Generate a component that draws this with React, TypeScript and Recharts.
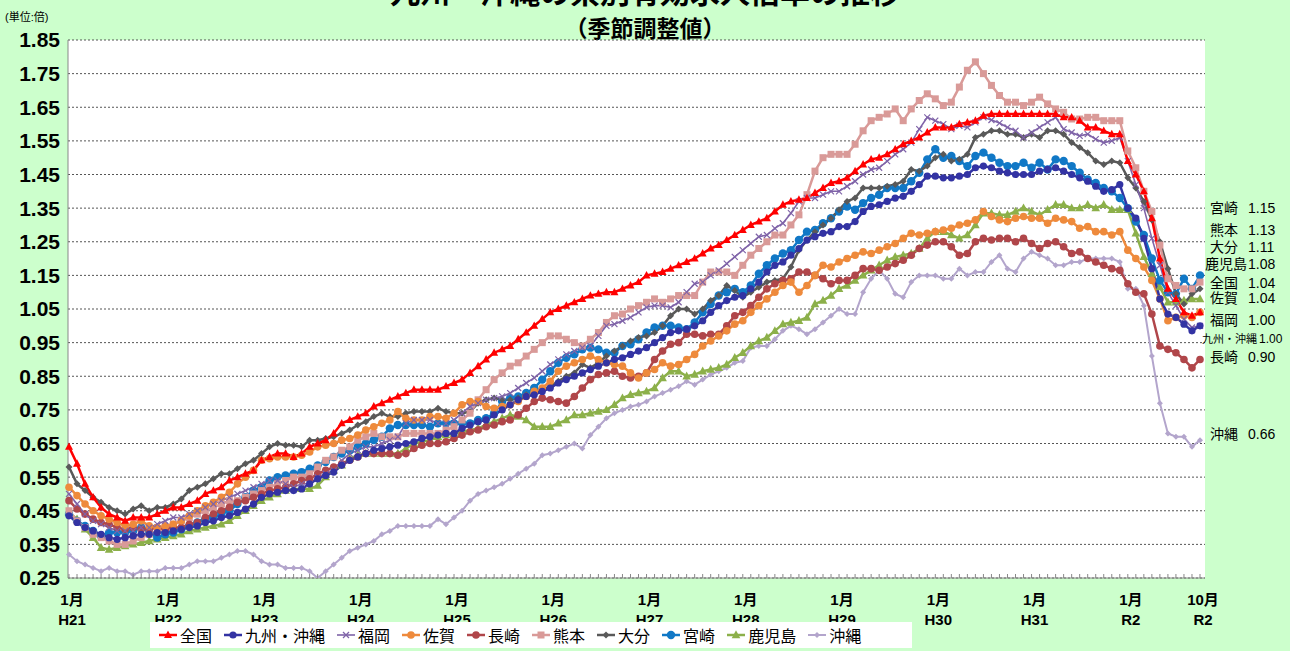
import { LineChart, Line, XAxis, YAxis, CartesianGrid, Legend } from 'recharts'

// monthly values, Jan 2009 (H21) .. Oct 2020 (R2), 142 months
const zenkoku = [
  0.64, 0.59, 0.53, 0.49, 0.46, 0.44, 0.43, 0.42, 0.43, 0.43, 0.43, 0.44,
  0.45, 0.46, 0.46, 0.47, 0.48, 0.50, 0.51, 0.52, 0.54, 0.55, 0.56, 0.57,
  0.60, 0.61, 0.62, 0.62, 0.61, 0.62, 0.64, 0.65, 0.66, 0.68, 0.71, 0.72,
  0.73, 0.74, 0.76, 0.77, 0.78, 0.79, 0.80, 0.81, 0.81, 0.81, 0.81, 0.82,
  0.83, 0.84, 0.86, 0.88, 0.90, 0.92, 0.93, 0.94, 0.96, 0.98, 1.00, 1.02,
  1.04, 1.05, 1.06, 1.07, 1.08, 1.09, 1.095, 1.10, 1.10, 1.11, 1.12, 1.13,
  1.15, 1.155, 1.16, 1.17, 1.18, 1.19, 1.20, 1.215, 1.23, 1.24, 1.255, 1.27,
  1.285, 1.30, 1.31, 1.32, 1.34, 1.36, 1.37, 1.375, 1.38, 1.395, 1.41, 1.425,
  1.43, 1.44, 1.46, 1.48, 1.495, 1.50, 1.51, 1.525, 1.54, 1.55, 1.56, 1.575,
  1.59, 1.59, 1.59, 1.60, 1.605, 1.61, 1.625, 1.63, 1.63, 1.63, 1.63, 1.63,
  1.63, 1.63, 1.63, 1.63, 1.62, 1.62, 1.61, 1.59, 1.59, 1.58, 1.57, 1.57,
  1.49, 1.45, 1.40, 1.32, 1.20, 1.11, 1.08, 1.04, 1.03, 1.04,
]
const kyushu = [
  0.435, 0.415, 0.40, 0.39, 0.38, 0.37, 0.365, 0.37, 0.375, 0.38, 0.38, 0.385,
  0.385, 0.39, 0.395, 0.40, 0.405, 0.415, 0.42, 0.43, 0.435, 0.445, 0.455, 0.47,
  0.49, 0.50, 0.505, 0.51, 0.51, 0.515, 0.53, 0.545, 0.555, 0.565, 0.585, 0.60,
  0.61, 0.62, 0.63, 0.635, 0.64, 0.645, 0.65, 0.655, 0.665, 0.67, 0.675, 0.68,
  0.68, 0.695, 0.705, 0.715, 0.72, 0.735, 0.75, 0.765, 0.78, 0.79, 0.795, 0.805,
  0.815, 0.83, 0.84, 0.85, 0.86, 0.87, 0.88, 0.89, 0.90, 0.905, 0.915, 0.925,
  0.935, 0.95, 0.965, 0.98, 0.985, 0.99, 1.00, 1.015, 1.04, 1.06, 1.075, 1.085,
  1.09, 1.11, 1.13, 1.16, 1.18, 1.19, 1.21, 1.23, 1.255, 1.265, 1.275, 1.28,
  1.295, 1.295, 1.31, 1.34, 1.355, 1.36, 1.37, 1.38, 1.385, 1.40, 1.42, 1.445,
  1.445, 1.44, 1.44, 1.445, 1.45, 1.47, 1.475, 1.47, 1.46, 1.455, 1.45, 1.45,
  1.45, 1.46, 1.465, 1.47, 1.46, 1.45, 1.44, 1.43, 1.415, 1.40, 1.405, 1.42,
  1.35, 1.32, 1.26, 1.17, 1.08, 1.035, 1.025, 1.005, 0.985, 1.00,
]
const fukuoka = [
  0.50, 0.47, 0.44, 0.42, 0.41, 0.40, 0.39, 0.39, 0.39, 0.40, 0.40, 0.41,
  0.42, 0.43, 0.43, 0.44, 0.45, 0.46, 0.47, 0.48, 0.49, 0.50, 0.51, 0.52,
  0.53, 0.54, 0.54, 0.53, 0.52, 0.53, 0.53, 0.55, 0.56, 0.57, 0.60, 0.62,
  0.63, 0.64, 0.64, 0.65, 0.66, 0.67, 0.71, 0.72, 0.72, 0.72, 0.71, 0.71,
  0.72, 0.74, 0.76, 0.77, 0.78, 0.785, 0.79, 0.80, 0.815, 0.83, 0.845, 0.865,
  0.885, 0.90, 0.915, 0.925, 0.935, 0.94, 0.97, 1.00, 1.005, 1.015, 1.025, 1.04,
  1.055, 1.06, 1.06, 1.055, 1.07, 1.10, 1.125, 1.13, 1.15, 1.165, 1.185, 1.205,
  1.225, 1.245, 1.265, 1.27, 1.29, 1.305, 1.335, 1.37, 1.38, 1.38, 1.39, 1.40,
  1.40, 1.415, 1.43, 1.45, 1.465, 1.47, 1.49, 1.51, 1.525, 1.545, 1.585, 1.62,
  1.61, 1.60, 1.585, 1.595, 1.59, 1.605, 1.62, 1.612, 1.603, 1.59, 1.58, 1.56,
  1.575, 1.59, 1.605, 1.62, 1.585, 1.575, 1.565, 1.57, 1.555, 1.545, 1.55, 1.56,
  1.49, 1.42, 1.35, 1.26, 1.18, 1.10, 1.06, 1.02, 0.995, 1.00,
]
const saga = [
  0.52, 0.495, 0.47, 0.45, 0.435, 0.425, 0.415, 0.405, 0.41, 0.42, 0.405, 0.40,
  0.405, 0.41, 0.42, 0.435, 0.45, 0.465, 0.475, 0.49, 0.505, 0.53, 0.55, 0.57,
  0.60, 0.605, 0.61, 0.61, 0.61, 0.615, 0.625, 0.64, 0.645, 0.65, 0.66, 0.665,
  0.675, 0.69, 0.70, 0.71, 0.72, 0.745, 0.725, 0.72, 0.72, 0.73, 0.73, 0.725,
  0.74, 0.765, 0.775, 0.775, 0.76, 0.755, 0.76, 0.765, 0.775, 0.79, 0.805, 0.815,
  0.835, 0.865, 0.88, 0.89, 0.90, 0.91, 0.90, 0.89, 0.885, 0.88, 0.86, 0.845,
  0.86, 0.87, 0.89, 0.88, 0.885, 0.90, 0.915, 0.94, 0.955, 0.97, 0.985, 1.005,
  1.015, 1.04, 1.06, 1.08, 1.10, 1.12, 1.13, 1.10, 1.12, 1.15, 1.18, 1.175,
  1.19, 1.20, 1.21, 1.22, 1.215, 1.225, 1.235, 1.245, 1.26, 1.275, 1.27, 1.275,
  1.28, 1.285, 1.29, 1.30, 1.305, 1.315, 1.34, 1.325, 1.315, 1.31, 1.32, 1.325,
  1.32, 1.32, 1.305, 1.32, 1.315, 1.31, 1.29, 1.295, 1.28, 1.28, 1.27, 1.28,
  1.225, 1.20, 1.175, 1.135, 1.08, 1.015, 1.025, 1.03, 1.025, 1.04,
]
const nagasaki = [
  0.48, 0.455, 0.44, 0.425, 0.415, 0.41, 0.40, 0.395, 0.40, 0.395, 0.395, 0.40,
  0.395, 0.40, 0.40, 0.41, 0.415, 0.43, 0.44, 0.45, 0.46, 0.475, 0.48, 0.49,
  0.50, 0.51, 0.515, 0.52, 0.53, 0.54, 0.545, 0.56, 0.57, 0.58, 0.59, 0.60,
  0.61, 0.62, 0.62, 0.62, 0.62, 0.615, 0.62, 0.635, 0.645, 0.65, 0.65, 0.655,
  0.665, 0.675, 0.685, 0.69, 0.70, 0.705, 0.715, 0.72, 0.735, 0.755, 0.775, 0.785,
  0.78, 0.775, 0.77, 0.79, 0.815, 0.84, 0.855, 0.86, 0.865, 0.85, 0.845, 0.85,
  0.86, 0.90, 0.925, 0.945, 0.95, 0.975, 0.975, 0.97, 0.975, 0.975, 1.00, 1.03,
  1.04, 1.06, 1.085, 1.11, 1.125, 1.135, 1.14, 1.16, 1.16, 1.15, 1.14, 1.125,
  1.135, 1.135, 1.15, 1.17, 1.17, 1.165, 1.175, 1.185, 1.195, 1.21, 1.23, 1.24,
  1.25, 1.25, 1.235, 1.21, 1.215, 1.25, 1.26, 1.255, 1.26, 1.26, 1.25, 1.26,
  1.245, 1.23, 1.245, 1.25, 1.235, 1.215, 1.22, 1.20, 1.19, 1.18, 1.17, 1.165,
  1.125, 1.10, 1.095, 1.035, 0.94, 0.93, 0.92, 0.90, 0.875, 0.90,
]
const kumamoto = [
  0.45, 0.42, 0.40, 0.38, 0.37, 0.36, 0.35, 0.35, 0.36, 0.37, 0.38, 0.39,
  0.40, 0.41, 0.42, 0.43, 0.44, 0.45, 0.46, 0.47, 0.48, 0.48, 0.49, 0.50,
  0.51, 0.52, 0.53, 0.54, 0.55, 0.55, 0.56, 0.58, 0.60, 0.61, 0.63, 0.64,
  0.66, 0.67, 0.68, 0.67, 0.67, 0.67, 0.68, 0.68, 0.68, 0.68, 0.68, 0.69,
  0.70, 0.72, 0.74, 0.78, 0.81, 0.84, 0.86, 0.88, 0.89, 0.91, 0.93, 0.95,
  0.97, 0.97, 0.96, 0.95, 0.94, 0.96, 0.98, 1.01, 1.03, 1.035, 1.05, 1.06,
  1.07, 1.08, 1.07, 1.08, 1.09, 1.09, 1.09, 1.13, 1.16, 1.16, 1.16, 1.15,
  1.18, 1.21, 1.23, 1.25, 1.27, 1.27, 1.30, 1.33, 1.39, 1.46, 1.50, 1.51,
  1.51, 1.51, 1.54, 1.58, 1.61, 1.62, 1.63, 1.645, 1.61, 1.645, 1.67, 1.69,
  1.675, 1.655, 1.665, 1.71, 1.76, 1.785, 1.75, 1.715, 1.685, 1.665, 1.665, 1.655,
  1.665, 1.68, 1.66, 1.645, 1.635, 1.615, 1.615, 1.62, 1.62, 1.61, 1.61, 1.61,
  1.52, 1.47, 1.40, 1.34, 1.24, 1.14, 1.12, 1.11, 1.11, 1.13,
]
const oita = [
  0.58, 0.53, 0.51, 0.49, 0.475, 0.46, 0.45, 0.44, 0.455, 0.465, 0.45, 0.46,
  0.46, 0.47, 0.485, 0.51, 0.52, 0.53, 0.545, 0.56, 0.56, 0.575, 0.59, 0.60,
  0.62, 0.64, 0.65, 0.645, 0.645, 0.64, 0.66, 0.66, 0.665, 0.67, 0.68, 0.69,
  0.705, 0.715, 0.73, 0.74, 0.73, 0.73, 0.74, 0.745, 0.745, 0.745, 0.755, 0.745,
  0.74, 0.74, 0.745, 0.77, 0.78, 0.785, 0.78, 0.78, 0.785, 0.795, 0.80, 0.81,
  0.82, 0.835, 0.85, 0.86, 0.885, 0.875, 0.89, 0.91, 0.925, 0.94, 0.955, 0.965,
  0.97, 0.98, 1.00, 1.03, 1.05, 1.05, 1.035, 1.05, 1.075, 1.09, 1.12, 1.105,
  1.085, 1.10, 1.115, 1.13, 1.135, 1.14, 1.175, 1.225, 1.255, 1.28, 1.30, 1.32,
  1.345, 1.37, 1.38, 1.41, 1.41, 1.41, 1.415, 1.42, 1.43, 1.465, 1.46, 1.475,
  1.50, 1.51, 1.49, 1.495, 1.51, 1.56, 1.57, 1.58, 1.58, 1.57, 1.57, 1.56,
  1.57, 1.56, 1.58, 1.58, 1.57, 1.545, 1.53, 1.515, 1.49, 1.48, 1.49, 1.485,
  1.44, 1.41, 1.37, 1.315, 1.25, 1.17, 1.095, 1.065, 1.095, 1.11,
]
const miyazaki = [
  0.44, 0.42, 0.405, 0.39, 0.375, 0.385, 0.385, 0.385, 0.39, 0.40, 0.385, 0.37,
  0.38, 0.385, 0.395, 0.405, 0.415, 0.425, 0.43, 0.44, 0.45, 0.47, 0.49, 0.51,
  0.52, 0.54, 0.55, 0.555, 0.56, 0.565, 0.575, 0.585, 0.595, 0.61, 0.62, 0.63,
  0.64, 0.65, 0.66, 0.67, 0.695, 0.705, 0.705, 0.705, 0.705, 0.70, 0.71, 0.71,
  0.71, 0.71, 0.71, 0.72, 0.725, 0.74, 0.775, 0.785, 0.79, 0.80, 0.815, 0.84,
  0.865, 0.89, 0.905, 0.915, 0.93, 0.935, 0.93, 0.92, 0.92, 0.94, 0.945, 0.96,
  0.98, 0.995, 1.00, 1.00, 0.995, 0.99, 1.01, 1.04, 1.065, 1.09, 1.10, 1.11,
  1.10, 1.12, 1.155, 1.18, 1.20, 1.215, 1.225, 1.255, 1.28, 1.285, 1.305, 1.32,
  1.34, 1.355, 1.345, 1.365, 1.38, 1.39, 1.41, 1.41, 1.41, 1.43, 1.455, 1.495,
  1.525, 1.50, 1.505, 1.49, 1.475, 1.505, 1.515, 1.50, 1.485, 1.475, 1.475, 1.485,
  1.47, 1.485, 1.465, 1.495, 1.49, 1.475, 1.455, 1.435, 1.425, 1.41, 1.40, 1.38,
  1.35, 1.31, 1.27, 1.20, 1.135, 1.10, 1.095, 1.14, 1.11, 1.15,
]
const kagoshima = [
  0.445, 0.425, 0.395, 0.37, 0.34, 0.335, 0.34, 0.345, 0.35, 0.355, 0.36, 0.365,
  0.37, 0.375, 0.38, 0.39, 0.395, 0.40, 0.405, 0.41, 0.42, 0.435, 0.45, 0.465,
  0.48, 0.49, 0.50, 0.51, 0.515, 0.515, 0.515, 0.525, 0.55, 0.57, 0.585, 0.605,
  0.615, 0.62, 0.62, 0.62, 0.62, 0.62, 0.635, 0.65, 0.655, 0.66, 0.67, 0.675,
  0.68, 0.685, 0.69, 0.695, 0.705, 0.715, 0.725, 0.735, 0.73, 0.72, 0.70, 0.70,
  0.70, 0.71, 0.72, 0.735, 0.735, 0.74, 0.745, 0.75, 0.765, 0.785, 0.795, 0.80,
  0.805, 0.815, 0.845, 0.865, 0.865, 0.85, 0.855, 0.865, 0.87, 0.875, 0.885, 0.905,
  0.92, 0.94, 0.955, 0.965, 0.985, 1.005, 1.01, 1.015, 1.025, 1.065, 1.075, 1.09,
  1.11, 1.12, 1.135, 1.15, 1.165, 1.18, 1.195, 1.205, 1.21, 1.215, 1.23, 1.26,
  1.28, 1.28, 1.27, 1.26, 1.27, 1.30, 1.335, 1.335, 1.33, 1.33, 1.34, 1.35,
  1.34, 1.33, 1.345, 1.36, 1.36, 1.35, 1.35, 1.36, 1.35, 1.36, 1.345, 1.345,
  1.345, 1.275, 1.205, 1.155, 1.115, 1.07, 1.07, 1.075, 1.08, 1.08,
]
const okinawa = [
  0.32, 0.30, 0.29, 0.28, 0.27, 0.28, 0.27, 0.27, 0.26, 0.27, 0.27, 0.27,
  0.28, 0.28, 0.28, 0.29, 0.30, 0.30, 0.30, 0.31, 0.32, 0.33, 0.33, 0.32,
  0.30, 0.29, 0.29, 0.28, 0.28, 0.28, 0.27, 0.25, 0.27, 0.29, 0.31, 0.33,
  0.34, 0.35, 0.36, 0.38, 0.39, 0.405, 0.405, 0.405, 0.405, 0.405, 0.425, 0.41,
  0.43, 0.45, 0.48, 0.50, 0.51, 0.52, 0.53, 0.545, 0.56, 0.575, 0.59, 0.615,
  0.62, 0.63, 0.64, 0.65, 0.635, 0.675, 0.70, 0.725, 0.74, 0.75, 0.76, 0.765,
  0.775, 0.79, 0.80, 0.81, 0.82, 0.835, 0.825, 0.84, 0.855, 0.865, 0.875, 0.89,
  0.895, 0.935, 0.94, 0.94, 0.96, 0.985, 1.00, 0.99, 0.975, 0.99, 1.01, 1.03,
  1.05, 1.035, 1.035, 1.10, 1.14, 1.165, 1.14, 1.095, 1.085, 1.13, 1.15, 1.15,
  1.15, 1.14, 1.14, 1.17, 1.15, 1.16, 1.16, 1.19, 1.21, 1.17, 1.16, 1.20,
  1.22, 1.21, 1.20, 1.18, 1.18, 1.19, 1.19, 1.20, 1.20, 1.20, 1.20, 1.19,
  1.11, 1.11, 1.06, 0.91, 0.77, 0.68, 0.67, 0.67, 0.64, 0.66,
]

const X_TICKS = [0, 12, 24, 36, 48, 60, 72, 84, 96, 108, 120, 132, 141]
const X_MONTH = ['1月', '1月', '1月', '1月', '1月', '1月', '1月', '1月', '1月', '1月', '1月', '1月', '10月']
const X_ERA = ['H21', 'H22', 'H23', 'H24', 'H25', 'H26', 'H27', 'H28', 'H29', 'H30', 'H31', 'R2', 'R2']
const Y_TICKS = [0.25, 0.35, 0.45, 0.55, 0.65, 0.75, 0.85, 0.95, 1.05, 1.15, 1.25, 1.35, 1.45, 1.55, 1.65, 1.75, 1.85]

const END_NAMES = ['宮崎', '熊本', '大分', '鹿児島', '全国', '佐賀', '福岡', '九州・沖縄', '長崎', '沖縄']
const END_VALUES = ['1.15', '1.13', '1.11', '1.08', '1.04', '1.04', '1.00', '1.00', '0.90', '0.66']
const END_Y = [208, 230, 247, 264, 283, 298, 320, 339, 357, 434]

const SERIES = [
  { key: 'zenkoku', label: '全国', color: '#ff0000', shape: 'triangle', size: 4, width: 2.5, values: zenkoku },
  { key: 'kyushu', label: '九州・沖縄', color: '#3333a3', shape: 'circle', size: 3.6, width: 2.5, values: kyushu },
  { key: 'fukuoka', label: '福岡', color: '#7f63a8', shape: 'x', size: 3, width: 1.6, values: fukuoka },
  { key: 'saga', label: '佐賀', color: '#ee8a3c', shape: 'circle', size: 3.8, width: 2.5, values: saga },
  { key: 'nagasaki', label: '長崎', color: '#b0464a', shape: 'circle', size: 3.8, width: 2.5, values: nagasaki },
  { key: 'kumamoto', label: '熊本', color: '#d99a98', shape: 'square', size: 3.5, width: 2.5, values: kumamoto },
  { key: 'oita', label: '大分', color: '#595959', shape: 'diamond', size: 3.5, width: 2.5, values: oita },
  { key: 'miyazaki', label: '宮崎', color: '#1178c6', shape: 'circle', size: 4.2, width: 2.5, values: miyazaki },
  { key: 'kagoshima', label: '鹿児島', color: '#8cb04a', shape: 'triangle', size: 4.3, width: 2.5, values: kagoshima },
  { key: 'okinawa', label: '沖縄', color: '#b3a5cc', shape: 'diamond', size: 3, width: 2, values: okinawa },
]

const data = zenkoku.map((_, i) => {
  const row: Record<string, number> = { i }
  SERIES.forEach((s) => { row[s.key] = s.values[i] })
  return row
})

const JP = "'Liberation Sans', 'Noto Sans CJK JP', sans-serif"

function marker(shape: string, x: number, y: number, color: string, s: number, key?: string) {
  if (shape === 'triangle') {
    return <polygon key={key} points={`${x},${y - s * 1.1} ${x - s},${y + s * 0.75} ${x + s},${y + s * 0.75}`} fill={color} />
  }
  if (shape === 'square') {
    return <rect key={key} x={x - s} y={y - s} width={s * 2} height={s * 2} fill={color} />
  }
  if (shape === 'diamond') {
    return <polygon key={key} points={`${x},${y - s} ${x + s},${y} ${x},${y + s} ${x - s},${y}`} fill={color} />
  }
  if (shape === 'x') {
    return (
      <g key={key} stroke={color} strokeWidth={1.2}>
        <line x1={x - s} y1={y - s} x2={x + s} y2={y + s} />
        <line x1={x - s} y1={y + s} x2={x + s} y2={y - s} />
      </g>
    )
  }
  return <circle key={key} cx={x} cy={y} r={s} fill={color} />
}

const XTick = (props: any) => {
  const { x, y, payload } = props
  const k = X_TICKS.indexOf(payload.value)
  return (
    <g>
      <line x1={x} y1={y} x2={x} y2={y - 4} stroke="#888" />
      {k >= 0 && (
        <g fontFamily={JP} fontWeight="bold" fontSize={15} fill="#000" textAnchor="middle">
          <text x={x + 3} y={y + 27}>{X_MONTH[k]}</text>
          <text x={x + 3} y={y + 47}>{X_ERA[k]}</text>
        </g>
      )}
    </g>
  )
}

const LegendBox = () => (
  <div style={{ display: 'flex', alignItems: 'center', gap: 11, background: '#fff', width: 746, height: 26, padding: '0 8px', fontFamily: JP, fontSize: 16, color: '#000' }}>
    {SERIES.map((s) => (
      <div key={s.key} style={{ display: 'flex', alignItems: 'center' }}>
        <svg width={20} height={14}>
          <line x1={1} y1={7} x2={19} y2={7} stroke={s.color} strokeWidth={s.width} />
          {marker(s.shape, 10, 7, s.color, s.size)}
        </svg>
        <span style={{ marginLeft: 2 }}>{s.label}</span>
      </div>
    ))}
  </div>
)

export default function App() {
  return (
    <div style={{ position: 'absolute', left: 0, top: 0, width: 1290, height: 651, background: '#ccffcc', overflow: 'hidden' }}>
      <div style={{ position: 'absolute', left: 0, width: 1290, top: -24, textAlign: 'center', fontFamily: JP, fontWeight: 'bold', fontSize: 30, lineHeight: '34px' }}>
        九州・沖縄の県別有効求人倍率の推移
      </div>
      <div style={{ position: 'absolute', left: 0, width: 1290, top: 14, textAlign: 'center', fontFamily: JP, fontWeight: 'bold', fontSize: 23, lineHeight: '30px' }}>
        （季節調整値）
      </div>
      <div style={{ position: 'absolute', left: 5, top: 10, fontFamily: JP, fontSize: 11, lineHeight: '14px' }}>(単位:倍)</div>
      <LineChart width={1290} height={651} data={data} margin={{ top: 40, right: 85, left: 0, bottom: 0 }}>
        <CartesianGrid vertical={false} strokeDasharray="2 2" stroke="#555" fill="#ffffff" fillOpacity={1} />
        <XAxis
          dataKey="i"
          type="number"
          domain={[0, 141]}
          ticks={data.map((d) => d.i)}
          interval={0}
          padding={{ left: 1, right: 5 }}
          height={47}
          tickSize={0}
          tickMargin={0}
          tickLine={false}
          axisLine={{ stroke: '#888' }}
          tick={<XTick />}
        />
        <YAxis
          type="number"
          domain={[0.25, 1.85]}
          ticks={Y_TICKS}
          interval={0}
          allowDataOverflow
          width={68}
          tickLine={false}
          axisLine={{ stroke: '#888' }}
          tickFormatter={(v: number) => v.toFixed(2)}
          tick={{ fontFamily: "'Liberation Sans', Arial, sans-serif", fontWeight: 'bold', fontSize: 21, fill: '#000' }}
        />
        <Legend content={<LegendBox />} wrapperStyle={{ position: 'absolute', left: 150, top: 622, width: 762, height: 26 }} />
        {[...SERIES].reverse().map((s) => (
          <Line
            key={s.key}
            dataKey={s.key}
            name={s.label}
            stroke={s.color}
            strokeWidth={s.width}
            isAnimationActive={false}
            dot={(p: any) => marker(s.shape, p.cx, p.cy, s.color, s.size, `${s.key}-${p.index}`)}
            activeDot={false}
          />
        ))}
      </LineChart>
      {END_NAMES.map((n, k) => {
        const small = n === '九州・沖縄'
        return (
          <div
            key={n}
            style={{
              position: 'absolute', left: small ? 1202 : n === '鹿児島' ? 1205 : 1210, top: END_Y[k] - 10,
              lineHeight: '20px', fontFamily: JP, fontSize: small ? 12 : 14, whiteSpace: 'nowrap', color: '#000',
            }}
          >
            <span style={{ fontSize: small ? 11 : 14, display: 'inline-block', width: small ? 57 : n === '鹿児島' ? 43 : 38 }}>{n}</span>
            <span>{END_VALUES[k]}</span>
          </div>
        )
      })}
    </div>
  )
}
